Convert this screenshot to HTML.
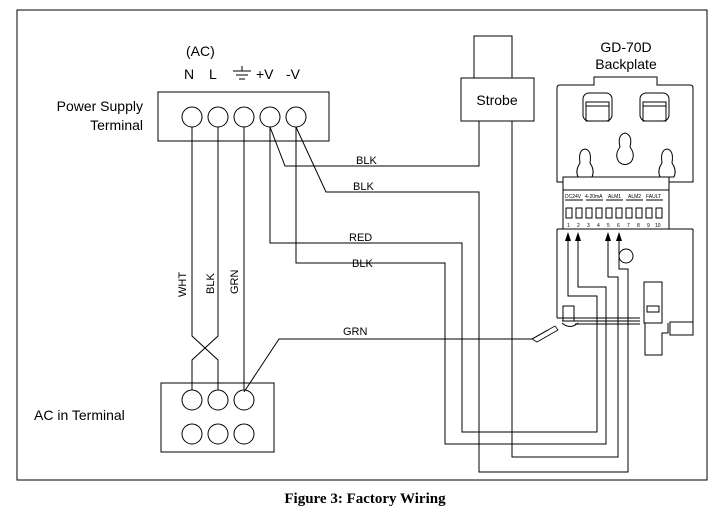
<!DOCTYPE html>
<html><head><meta charset="utf-8"><style>
html,body{margin:0;padding:0;background:#fff}
svg{display:block}
text{font-family:"Liberation Sans",sans-serif;fill:#000}
</style></head><body>
<svg width="721" height="527" viewBox="0 0 721 527" xmlns="http://www.w3.org/2000/svg">
<g fill="none" stroke="#000" stroke-width="1">
<rect x="17" y="10" width="690" height="470"/>
<rect x="158" y="92" width="171" height="49"/>
<circle cx="192" cy="117" r="10"/><circle cx="218" cy="117" r="10"/><circle cx="244" cy="117" r="10"/><circle cx="270" cy="117" r="10"/><circle cx="296" cy="117" r="10"/>
<line x1="233" y1="71" x2="251" y2="71"/><line x1="236" y1="75" x2="248" y2="75"/><line x1="239" y1="79" x2="245" y2="79"/><line x1="242" y1="66" x2="242" y2="71"/>
<rect x="161" y="383" width="113" height="69"/>
<circle cx="192" cy="400" r="10"/><circle cx="218" cy="400" r="10"/><circle cx="244" cy="400" r="10"/>
<circle cx="192" cy="434" r="10"/><circle cx="218" cy="434" r="10"/><circle cx="244" cy="434" r="10"/>
<polyline points="192,127 192,336 218,360 218,390"/>
<polyline points="218,127 218,336 192,360 192,390"/>
<line x1="244" y1="127" x2="244" y2="390"/>
<polyline points="244,392 279,339 532,339 548,330"/>
<rect x="474" y="36" width="38" height="42"/>
<rect x="461" y="78" width="73" height="43"/>
<polyline points="270,127 285,166 479,166 479,121"/>
<polyline points="296,127 326,192 479,192 479,472 628,472 628,269 619,269 619,240"/>
<polyline points="512,121 512,457 618,457 618,277 608,277 608,240"/>
<polyline points="270,127 270,243 462,243 462,432 597,432 597,296 568,296 568,240"/>
<polyline points="296,127 296,263 445,263 445,444 606,444 606,287 578,287 578,240"/>
<path d="M560,85 L594,85 L594,77 L657,77 L657,85 L690,85 Q693,85 693,88 L693,182 L669,182"/>
<path d="M563,182 L557,182 L557,88 Q557,85 560,85"/>
<rect x="583" y="93" width="29" height="28" rx="6"/><rect x="586" y="102" width="23" height="19"/><line x1="586" y1="106" x2="609" y2="106"/>
<rect x="640" y="93" width="29" height="28" rx="6"/><rect x="643" y="102" width="23" height="19"/><line x1="643" y1="106" x2="666" y2="106"/>
<path d="M620,147 Q617,135 625,133 Q633,135 630,147 Q636,155 631,162 Q625,167 619,162 Q614,155 620,147Z"/>
<path d="M580,163 Q578,150 585,149 Q592,150 590,163 Q595,170 592,177 L578,177 Q575,170 580,163Z"/>
<path d="M662,163 Q660,150 667,149 Q674,150 672,163 Q677,170 674,177 L660,177 Q657,170 662,163Z"/>
<rect x="563" y="177" width="106" height="52"/>
<line x1="563" y1="190" x2="669" y2="190"/>
<path d="M557,229 L557,318 M693,229 L693,335 M557,229 L693,229"/>
<circle cx="626" cy="256" r="7"/>
<rect x="563" y="306" width="11" height="15"/>
<line x1="557" y1="318" x2="640" y2="318"/>
<line x1="562" y1="321" x2="640" y2="321"/>
<line x1="575" y1="324" x2="640" y2="324"/>
<path d="M562,323 Q570,330 578,323"/>
<rect x="644" y="282" width="18" height="41"/>
<rect x="647" y="306" width="12" height="6"/>
<path d="M645,323 L645,355 L662,355 L662,333 L668,333 L668,323"/>
<rect x="670" y="322" width="23" height="13"/>
<path d="M532,339 L555,326 L558,330 L537,342Z" stroke-width="0.8"/>
<g stroke-width="1">
<rect x="566" y="208" width="6" height="10"/><rect x="576" y="208" width="6" height="10"/><rect x="586" y="208" width="6" height="10"/><rect x="596" y="208" width="6" height="10"/><rect x="606" y="208" width="6" height="10"/><rect x="616" y="208" width="6" height="10"/><rect x="626" y="208" width="6" height="10"/><rect x="636" y="208" width="6" height="10"/><rect x="646" y="208" width="6" height="10"/><rect x="656" y="208" width="6" height="10"/>
<line x1="565" y1="200" x2="583" y2="200"/><line x1="586" y1="200" x2="603" y2="200"/><line x1="606" y1="200" x2="623" y2="200"/><line x1="626" y1="200" x2="643" y2="200"/><line x1="646" y1="200" x2="663" y2="200"/>
</g>
</g>
<g fill="#000">
<polygon points="568,232 565,241 571,241"/><polygon points="578,232 575,241 581,241"/><polygon points="608,232 605,241 611,241"/><polygon points="619,232 616,241 622,241"/>
</g>
<g font-size="5">
<text x="565" y="198">DC24V</text><text x="585" y="198">4-20mA</text><text x="608" y="198">ALM1</text><text x="628" y="198">ALM2</text><text x="646" y="198">FAULT</text>
<text x="567" y="227">1</text><text x="577" y="227">2</text><text x="587" y="227">3</text><text x="597" y="227">4</text><text x="607" y="227">5</text><text x="617" y="227">6</text><text x="627" y="227">7</text><text x="637" y="227">8</text><text x="647" y="227">9</text><text x="655" y="227">10</text>
</g>
<g font-size="14">
<text x="186" y="56">(AC)</text>
<text x="184" y="79">N</text><text x="209" y="79">L</text><text x="256" y="79">+V</text><text x="286" y="79">-V</text>
<text x="143" y="111" text-anchor="end">Power Supply</text>
<text x="143" y="130" text-anchor="end">Terminal</text>
<text x="34" y="420">AC in Terminal</text>
<text x="497" y="105" text-anchor="middle">Strobe</text>
<text x="626" y="52" text-anchor="middle">GD-70D</text>
<text x="626" y="69" text-anchor="middle">Backplate</text>
</g>
<g font-size="11">
<text x="356" y="164">BLK</text><text x="353" y="190">BLK</text><text x="349" y="241">RED</text><text x="352" y="267">BLK</text><text x="343" y="335">GRN</text>
<text transform="translate(186,297) rotate(-90)">WHT</text>
<text transform="translate(214,294) rotate(-90)">BLK</text>
<text transform="translate(238,294) rotate(-90)">GRN</text>
</g>
<text x="365" y="503" text-anchor="middle" style="font-family:'Liberation Serif',serif;font-weight:bold;font-size:15px">Figure 3: Factory Wiring</text>
</svg>
</body></html>
